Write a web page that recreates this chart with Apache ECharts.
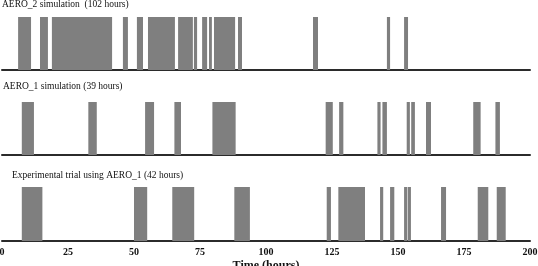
<!DOCTYPE html>
<html>
<head>
<meta charset="utf-8">
<script src="https://cdn.jsdelivr.net/npm/echarts@6/dist/echarts.min.js"></script>
<style>
  html, body { margin: 0; padding: 0; background: #fff; }
  #chart { width: 538px; height: 266px; }
</style>
</head>
<body>
<div id="chart"></div>
<script>
// on-periods as [start, end] in hours
const aero2Runs = [[6.1, 11.0], [14.4, 17.4], [18.9, 41.7], [45.8, 47.7], [51.1, 53.4], [55.3, 65.5], [66.7, 72.3], [72.7, 73.9], [75.8, 77.7], [78.4, 79.5], [80.3, 88.3], [89.4, 90.9], [117.8, 119.7], [145.8, 147.0], [152.3, 153.8]];
const aero1Runs = [[7.5, 12.1], [32.7, 35.9], [54.2, 57.6], [65.3, 67.8], [79.7, 88.5], [122.6, 125.3], [127.7, 129.3], [142.2, 143.4], [144.1, 145.8], [153.3, 154.5], [155.0, 156.4], [160.6, 162.5], [178.5, 181.3], [186.9, 188.6]];
const trialRuns = [[7.5, 15.3], [50.0, 55.0], [64.5, 72.8], [88.0, 93.9], [123.0, 124.6], [127.4, 137.5], [143.2, 144.4], [147.0, 148.6], [152.3, 153.5], [153.7, 154.9], [166.3, 168.2], [180.2, 184.2], [187.4, 190.8]];
const panelTitles = ["AERO_2 simulation  (102 hours)", "AERO_1 simulation (39 hours)", "Experimental trial using AERO_1 (42 hours)"];
const xTicks = [0, 25, 50, 75, 100, 125, 150, 175, 200];

const serif = "Liberation Serif";
const panels = [aero2Runs, aero1Runs, trialRuns];
const tops = [17, 102, 187];
const heights = [53, 53, 54];

function renderBar(params, api) {
  const p0 = api.coord([api.value(0), 1]);
  const p1 = api.coord([api.value(1), 0]);
  return {
    type: "rect",
    shape: { x: p0[0], y: p0[1], width: p1[0] - p0[0], height: p1[1] - p0[1] },
    style: { fill: "#7f7f7f" },
  };
}

const myChart = echarts.init(document.getElementById("chart"));
const titleStyle = { fontFamily: serif, fontSize: 9.5, fontWeight: "normal", color: "#111" };
const option = {
  animation: false,
  title: [
    { text: panelTitles[0], left: 2, top: -1, padding: 0, textStyle: titleStyle },
    { text: panelTitles[1], left: 3, top: 81, padding: 0, textStyle: titleStyle },
    { text: panelTitles[2], left: 12, top: 170, padding: 0, textStyle: titleStyle },
  ],
  grid: panels.map((p, i) => ({
    left: 2,
    right: 8,
    top: tops[i],
    height: heights[i],
    containLabel: false,
    outerBoundsMode: "none",
  })),
  xAxis: panels.map((p, i) => ({
    type: "value",
    gridIndex: i,
    min: xTicks[0],
    max: xTicks[xTicks.length - 1],
    interval: 25,
    splitLine: { show: false },
    axisTick: { show: false },
    axisLine: { lineStyle: { color: "#2b2b2b", width: 2 } },
    axisLabel: {
      show: i === 2,
      margin: 6,
      fontFamily: serif,
      fontSize: 10,
      fontWeight: "bold",
      color: "#111",
    },
    name: i === 2 ? "Time (hours)" : "",
    nameLocation: "middle",
    nameGap: 19,
    nameTextStyle: { fontFamily: serif, fontSize: 12, fontWeight: "bold", color: "#111" },
  })),
  yAxis: panels.map((p, i) => ({
    type: "value",
    gridIndex: i,
    min: 0,
    max: 1,
    show: false,
  })),
  series: panels.map((runs, i) => ({
    type: "custom",
    xAxisIndex: i,
    yAxisIndex: i,
    renderItem: renderBar,
    encode: { x: [0, 1] },
    data: runs,
  })),
};
myChart.setOption(option);
</script>
</body>
</html>
